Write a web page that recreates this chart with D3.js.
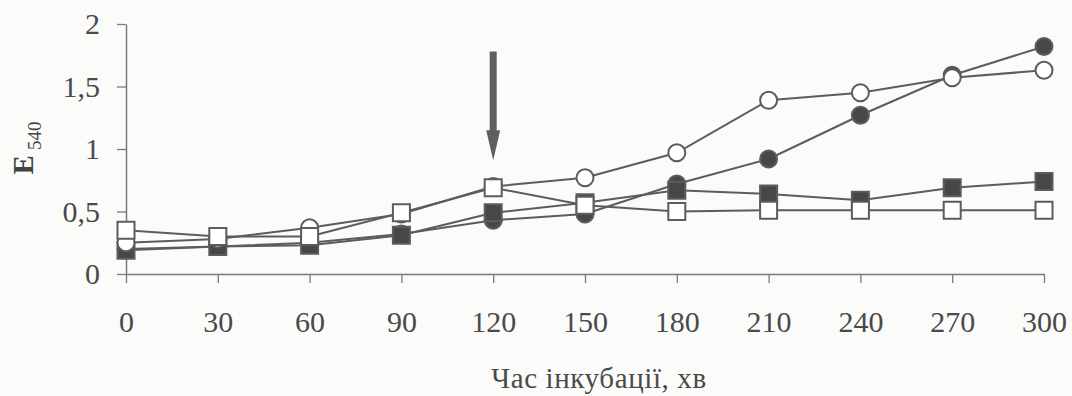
<!DOCTYPE html>
<html>
<head>
<meta charset="utf-8">
<script src="https://cdn.jsdelivr.net/npm/d3@7/dist/d3.min.js"></script>
<style>
  html, body { margin: 0; padding: 0; background: #fbfbfa; }
  svg { display: block; font-family: "Liberation Serif", "Times New Roman", serif; }
</style>
</head>
<body>
<svg id="chart" width="1072" height="396"></svg>
<script>
// Data
const times = [0, 30, 60, 90, 120, 150, 180, 210, 240, 270, 300];
const openCircle   = [0.25, 0.28, 0.37, 0.48, 0.70, 0.77, 0.97, 1.39, 1.45, 1.57, 1.63];
const filledCircle = [0.20, 0.22, 0.25, 0.32, 0.43, 0.48, 0.72, 0.92, 1.27, 1.59, 1.82];
const filledSquare = [0.19, 0.22, 0.23, 0.31, 0.49, 0.57, 0.67, 0.64, 0.59, 0.69, 0.74];
const openSquare   = [0.35, 0.30, 0.30, 0.49, 0.69, 0.55, 0.50, 0.51, 0.51, 0.51, 0.51];
const yTicks = [0, 0.5, 1, 1.5, 2];
const yTickLabels = ["0", "0,5", "1", "1,5", "2"];
// arrow marking the addition at 120 min
const arrowAt = 120, arrowFrom = 1.78, arrowTo = 0.91;

const svg = d3.select("#chart");
const width = 1072, height = 396;
const margin = { left: 126, right: 28, top: 24, bottom: 122 };

const x = d3.scaleLinear().domain([0, 300]).range([margin.left, width - margin.right]);
const y = d3.scaleLinear().domain([0, 2]).range([height - margin.bottom, margin.top]);

const axisColor = "#7a7a7a";
const lineColor = "#5c5c5c";
const darkFill = "#474747";

// X axis
const xAxis = svg.append("g")
  .attr("transform", `translate(0,${y(0)})`)
  .call(d3.axisBottom(x).tickValues(times).tickSize(9).tickSizeOuter(0).tickPadding(28));
xAxis.select(".domain").attr("stroke", axisColor).attr("stroke-width", 1.5);
xAxis.selectAll(".tick line").attr("stroke", axisColor).attr("stroke-width", 1.3);
xAxis.selectAll(".tick text")
  .attr("font-family", "Liberation Serif, serif")
  .attr("font-size", 30)
  .attr("fill", "#4a4a4a");

// Y axis
const yAxis = svg.append("g")
  .attr("transform", `translate(${x(0)},0)`)
  .call(d3.axisLeft(y).tickValues(yTicks).tickFormat((d, i) => yTickLabels[i])
    .tickSize(9).tickSizeOuter(0).tickPadding(17));
yAxis.select(".domain").attr("stroke", axisColor).attr("stroke-width", 1.5);
yAxis.selectAll(".tick line").attr("stroke", axisColor).attr("stroke-width", 1.3);
yAxis.selectAll(".tick text")
  .attr("font-family", "Liberation Serif, serif")
  .attr("font-size", 30)
  .attr("fill", "#4a4a4a");

// Axis titles
svg.append("text")
  .attr("x", 599)
  .attr("y", 388)
  .attr("text-anchor", "middle")
  .attr("font-size", 29)
  .attr("letter-spacing", 0.6)
  .attr("fill", "#4a4a4a")
  .text("Час інкубації, хв");

const yLabel = svg.append("text")
  .attr("transform", "translate(33,148) rotate(-90)")
  .attr("text-anchor", "middle")
  .attr("fill", "#444");
yLabel.append("tspan").attr("font-size", 29).attr("font-weight", "bold").text("E");
yLabel.append("tspan").attr("font-size", 19).attr("dx", 5).attr("dy", 8).text("540");

// Series, drawn bottom to top
const series = [
  { values: filledCircle, shape: "circle", fill: darkFill },
  { values: filledSquare, shape: "square", fill: darkFill },
  { values: openCircle,   shape: "circle", fill: "#ffffff" },
  { values: openSquare,   shape: "square", fill: "#ffffff" }
];

const line = d3.line().x((d, i) => x(times[i])).y(d => y(d));

series.forEach(s => {
  const g = svg.append("g");
  g.append("path")
    .datum(s.values)
    .attr("d", line)
    .attr("fill", "none")
    .attr("stroke", lineColor)
    .attr("stroke-width", 2);

  if (s.shape === "circle") {
    g.selectAll("circle")
      .data(s.values)
      .enter()
      .append("circle")
      .attr("cx", (d, i) => x(times[i]))
      .attr("cy", d => y(d))
      .attr("r", 8.5)
      .attr("fill", s.fill)
      .attr("stroke", lineColor)
      .attr("stroke-width", 2);
  } else {
    g.selectAll("rect")
      .data(s.values)
      .enter()
      .append("rect")
      .attr("x", (d, i) => x(times[i]) - 8.5)
      .attr("y", d => y(d) - 8.5)
      .attr("width", 17)
      .attr("height", 17)
      .attr("fill", s.fill)
      .attr("stroke", lineColor)
      .attr("stroke-width", 2);
  }
});

// Arrow
const ax = x(arrowAt);
svg.append("line")
  .attr("x1", ax).attr("x2", ax)
  .attr("y1", y(arrowFrom)).attr("y2", y(arrowTo) - 26)
  .attr("stroke", "#5f5f5f")
  .attr("stroke-width", 7);
svg.append("path")
  .attr("d", `M${ax - 7},${y(arrowTo) - 30} L${ax + 7},${y(arrowTo) - 30} L${ax},${y(arrowTo)} Z`)
  .attr("fill", "#5f5f5f");
</script>
</body>
</html>
